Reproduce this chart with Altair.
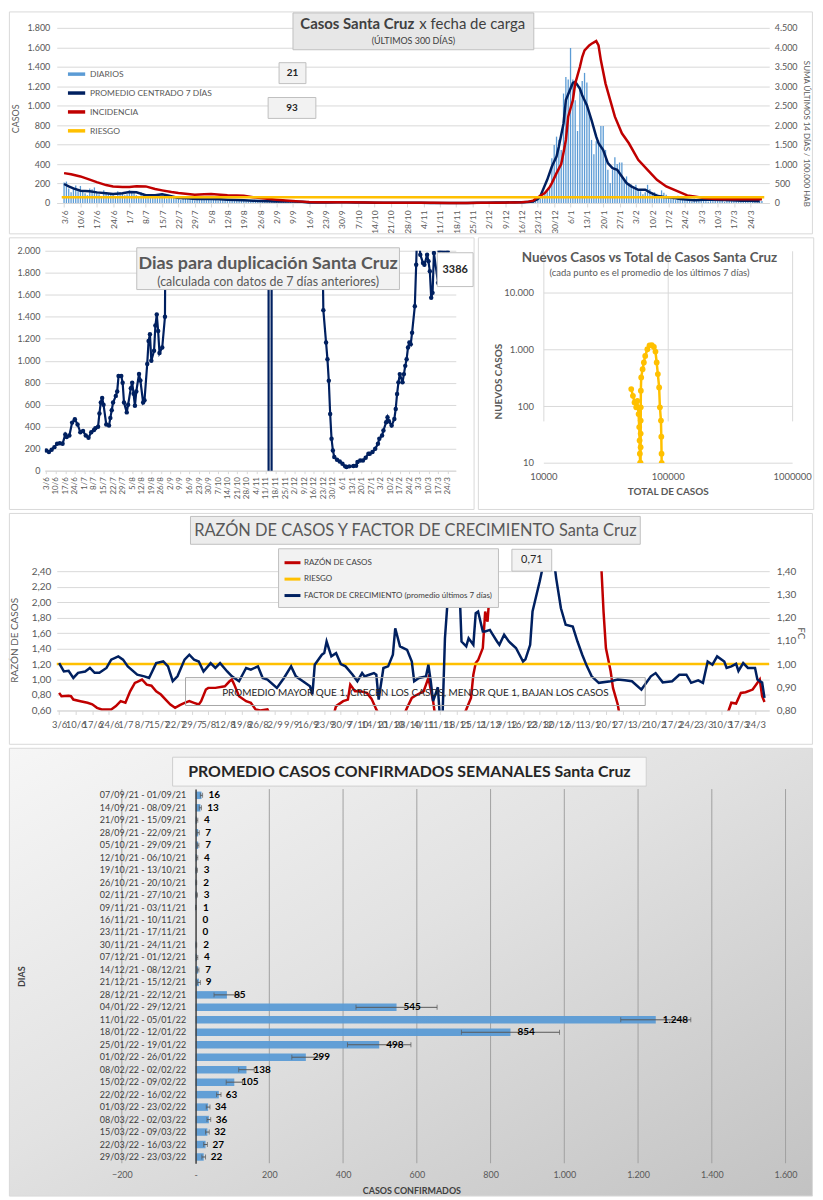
import altair as alt
import pandas as pd

FONT = "Lato"
BASE = pd.Timestamp("2021-06-03")  # day 0 of every "dia" list

# ---------------- Panel 1: Casos Santa Cruz x fecha de carga ----------------
diarios_jun = [210, 220, 150, 110, 160, 180, 120, 175, 130, 100, 80, 150, 140, 160, 120, 90, 70, 130, 110, 100,
               95, 85, 60, 120, 110, 100, 80, 90]
diarios_jul = [130, 120, 100, 80, 60, 110, 100, 90, 85, 70, 50, 80, 90, 85, 80, 60, 45, 70, 60, 55,
               50, 40, 30, 55, 50, 45, 48, 40, 25, 45, 50]
diarios_ago = [40, 35, 30, 45, 40, 50, 30, 25, 40, 38, 35, 30, 25, 20, 35, 30, 28, 25, 22, 18,
               15, 28, 25, 22, 20, 18, 12, 10, 20, 18, 15]
diarios_sep = [20, 18, 15, 12, 10, 22, 15, 14, 16, 12, 10, 8, 18, 13, 5, 4, 3, 6, 2, 4,
               4, 8, 7, 6, 9, 5, 8, 6, 7, 6]
diarios_oct = [8, 5, 9, 7, 7, 5, 4, 3, 6, 2, 4, 4, 3, 4, 2, 3, 3, 4, 2, 3,
               2, 1, 2, 3, 2, 1, 3, 4, 3, 2, 4]
diarios_nov = [3, 2, 1, 1, 2, 1, 0, 1, 1, 0, 0, 0, 1, 0, 0, 0, 0, 1, 0, 0,
               0, 0, 1, 2, 1, 3, 2, 2, 3, 2]
diarios_dic = [3, 4, 5, 3, 4, 5, 4, 6, 7, 8, 6, 7, 8, 7, 9, 8, 10, 9, 8, 10,
               12, 15, 30, 45, 60, 90, 130, 160, 460, 596, 682]
diarios_ene = [651, 545, 1125, 1296, 1268, 1593, 1268, 1057, 740, 1194, 1255, 1337, 1238, 921, 648, 500, 634, 645, 791, 791,
               545, 341, 205, 341, 471, 400, 416, 416, 250, 273, 205]
diarios_feb = [190, 150, 188, 140, 120, 90, 110, 187, 140, 85, 110, 95, 60, 130, 105, 85, 70, 60, 45, 30,
               75, 55, 40, 35, 30, 25, 15, 45]
diarios_mar = [40, 35, 40, 30, 20, 15, 50, 45, 35, 30, 28, 20, 10, 45, 40, 30, 28, 25, 15, 10,
               35, 40, 25, 20, 22, 12, 8, 30, 21]
diarios = (diarios_jun + diarios_jul + diarios_ago + diarios_sep + diarios_oct + diarios_nov
           + diarios_dic + diarios_ene + diarios_feb + diarios_mar)

prom_dia = [0, 2, 4, 7, 11, 14, 18, 21, 25, 28, 31, 35, 39, 42, 45, 49, 53, 56, 60, 63,
            67, 70, 74, 77, 81, 84, 88, 91, 95, 98, 102, 105, 109, 113, 117, 121, 125, 129, 133, 137,
            141, 145, 149, 153, 157, 161, 165, 169, 173, 177, 181, 185, 189, 193, 197, 201, 203, 204, 207, 209,
            211, 212, 214, 215, 217, 218, 219, 221, 222, 224, 226, 228, 229, 231, 233, 235, 237, 239, 241, 243,
            246, 249, 251, 254, 257, 260, 264, 270, 274, 278, 282, 286, 290, 294, 298]
prom_val = [195, 170, 150, 126, 120, 109, 100, 92, 100, 112, 110, 79, 80, 90, 75, 51, 48, 41, 42, 41,
            38, 34, 30, 27, 23, 20, 17, 16, 15, 14, 12, 6, 4, 6, 7, 7, 5, 4, 3, 3,
            2, 2, 3, 2, 1, 0.5, 0.3, 0.3, 0.5, 2, 3, 4, 6, 7, 8, 15, 40, 68, 238, 375,
            477, 580, 818, 1057, 1176, 1234, 1245, 1176, 1108, 1006, 852, 682, 614, 545, 409, 358, 341, 273, 205, 171,
            136, 136, 109, 75, 62, 55, 41, 27, 32, 34, 30, 27, 24, 22, 19]

inc_dia = [0, 3, 7, 11, 14, 18, 21, 25, 28, 31, 35, 39, 42, 46, 49, 53, 56, 60, 63, 67,
           70, 74, 77, 81, 84, 88, 91, 95, 98, 102, 105, 109, 116, 123, 130, 137, 144, 151, 158, 165,
           172, 179, 186, 193, 196, 199, 201, 202, 206, 208, 209, 211, 213, 214, 215, 216, 218, 219, 221, 222,
           223, 225, 226, 228, 229, 230, 232, 234, 236, 239, 242, 246, 250, 254, 258, 263, 267, 270, 274, 279,
           286, 292, 299]
inc_val = [767, 740, 682, 600, 537, 460, 426, 409, 409, 430, 426, 360, 324, 280, 256, 230, 213, 225, 230, 210,
           196, 190, 188, 150, 128, 100, 85, 65, 51, 35, 26, 20, 18, 16, 12, 9, 7, 6, 4, 2,
           2, 4, 8, 14, 20, 35, 60, 110, 256, 400, 511, 767, 1000, 1300, 1619, 2217, 2642, 3068, 3495, 3750,
           3920, 4050, 4091, 4160, 4048, 3665, 3068, 2642, 2217, 1790, 1534, 1108, 852, 596, 426, 298, 196, 170, 128, 102,
           95, 95, 93]
riesgo_inc = 150
series1 = ["DIARIOS", "PROMEDIO CENTRADO 7 DÍAS", "INCIDENCIA", "RIESGO"]
colores1 = ["#5B9BD5", "#002060", "#C00000", "#FFC000"]

# ---------------- Panel 2: Dias para duplicación ----------------
dup_dia = [0, 2, 4, 6, 8, 10, 12, 14, 15, 17, 19, 21, 23, 25, 27, 29, 31, 33, 35, 36,
           38, 39, 40, 41, 42, 44, 46, 47, 48, 49, 51, 52, 53, 55, 56, 57, 59, 60, 62, 63,
           64, 65, 66, 68, 69, 71, 72, 74, 75, 76, 77, 79, 80, 81, 82, 83, 85, 87, 88, 100,
           120, 140, 162, 163, 165, 166, 180, 195, 202, 203, 205, 206, 207, 208, 209, 210, 211, 213, 215, 217,
           219, 220, 222, 225, 227, 228, 230, 232, 234, 236, 237, 239, 241, 243, 244, 246, 247, 249, 250, 251,
           253, 255, 256, 257, 258, 259, 261, 262, 263, 264, 265, 266, 267, 268, 270, 271, 272, 274, 276, 277,
           279, 280, 281, 282, 283, 284, 287, 288, 291, 294, 299]
dup_val = [184, 169, 190, 214, 245, 250, 244, 330, 305, 320, 437, 467, 420, 350, 360, 320, 300, 350, 370, 385,
           400, 520, 620, 660, 600, 420, 410, 480, 550, 620, 680, 720, 860, 860, 800, 620, 530, 600, 750, 800,
           700, 590, 720, 880, 820, 620, 640, 970, 1180, 1240, 1000, 1090, 1320, 1420, 1270, 1070, 1120, 1400, 4000, 8000,
           15000, 30000, 90000, -9000, -9000, 90000, 40000, 9000, 2400, 1460, 1165, 1014, 817, 516, 290, 184, 124, 100, 84, 63,
           39, 33, 39, 42, 45, 78, 93, 93, 118, 154, 154, 169, 199, 244, 290, 320, 365, 440, 486, 450,
           410, 470, 561, 697, 803, 878, 803, 878, 953, 1014, 1120, 1165, 1150, 1255, 1496, 1873, 2300, 1964, 1889, 1873,
           1964, 1904, 1813, 1572, 1617, 1979, 1708, 2000, 1990, 1995, 3386]

# ---------------- Panel 3: Nuevos casos vs total ----------------
tot_casos = [50900, 52500, 54100, 55800, 57000, 58300, 59000, 59400, 59700, 60000,
             60100, 60200, 60300, 60400, 60450, 60500, 60550, 60600, 60650, 60700,
             60800, 61200, 62800, 64300, 65900, 68600, 71400, 74500, 77400, 79700,
             81500, 83300, 85300, 86500, 88200, 88800, 89200, 89400]
nuevos = [201, 153, 117, 96, 125, 73, 43, 25, 14.6, 10,
          6, 3, 1.5, 1, 3, 10, 19, 33, 56, 96,
          188, 323, 451, 591, 772, 1012, 1189, 1200, 1110, 922,
          591, 370, 215, 96, 56, 29, 14.6, 10]

# ---------------- Panel 4: Razón de casos y factor de crecimiento ----------------
razon_dia = [0, 1, 4, 5, 6, 9, 12, 14, 16, 18, 22, 24, 26, 28, 30, 32, 33, 35, 37, 39,
             41, 43, 45, 47, 49, 51, 53, 55, 57, 59, 60, 62, 63, 66, 70, 72, 73, 74, 76, 79,
             81, 83, 85, 88, 90, 100, 110, 116, 117, 120, 122, 123, 125, 127, 130, 132, 134, 136, 141, 145,
             147, 149, 151, 154, 155, 156, 158, 159, 163, 168, 172, 174, 175, 176, 177, 179, 180, 181, 182, 183,
             190, 200, 215, 226, 229, 230, 231, 233, 234, 236, 237, 245, 260, 275, 282, 283, 284, 286, 288, 290,
             293, 296, 297, 298]
razon_val = [0.827, 0.784, 0.79, 0.784, 0.741, 0.72, 0.699, 0.68, 0.634, 0.613, 0.613, 0.656, 0.72, 0.70, 0.848, 0.956, 0.97, 1.0, 0.934, 0.92,
             0.848, 0.806, 0.741, 0.677, 0.634, 0.67, 0.699, 0.72, 0.699, 0.677, 0.72, 0.87, 0.892, 0.892, 0.912, 0.977, 1.0, 0.934, 0.784, 0.72,
             0.7, 0.613, 0.6, 0.613, 0.5, 0.42, 0.45, 0.55, 0.656, 0.72, 0.741, 0.934, 0.848, 0.85, 0.827, 0.75, 0.613, 0.5, 0.4, 0.5,
             0.634, 0.763, 0.8, 0.848, 0.934, 1.02, 0.72, 0.5, 0.3, 0.35, 0.613, 0.763, 1.063, 1.213, 1.25, 1.406, 1.877, 1.748, 2.177, 2.7,
             4.0, 5.0, 5.0, 3.5, 2.5, 1.877, 1.406, 1.106, 0.891, 0.677, 0.5, 0.4, 0.35, 0.45, 0.55, 0.613, 0.7, 0.69, 0.827, 0.835,
             0.87, 1.0, 0.784, 0.71]
fc_dia = [0, 2, 4, 6, 8, 11, 13, 15, 17, 20, 22, 25, 27, 29, 33, 36, 38, 41, 44, 46,
          48, 50, 53, 55, 57, 59, 61, 64, 66, 68, 71, 73, 76, 79, 81, 84, 86, 88, 92, 95,
          98, 100, 103, 106, 107, 108, 111, 112, 113, 115, 117, 119, 121, 124, 126, 128, 129, 131, 133, 134,
          135, 137, 139, 141, 142, 144, 147, 149, 150, 152, 155, 156, 157, 158, 160, 161, 162, 163, 165, 167,
          169, 170, 172, 173, 175, 176, 177, 179, 180, 182, 183, 185, 186, 188, 190, 193, 196, 197, 199, 200,
          201, 203, 205, 207, 209, 210, 212, 214, 217, 219, 221, 223, 225, 228, 233, 236, 239, 242, 246, 250,
          252, 255, 259, 262, 265, 267, 270, 272, 274, 276, 278, 281, 282, 284, 286, 287, 289, 291, 294, 295,
          297, 298]
fc_val = [1.004, 0.968, 0.971, 0.94, 0.962, 0.968, 0.983, 0.962, 0.962, 0.983, 1.019, 1.033, 1.019, 0.99, 0.954, 0.947, 0.94, 1.004, 1.011, 0.99,
          0.926, 0.947, 1.019, 1.04, 1.019, 1.011, 0.968, 1.004, 0.983, 1.004, 0.968, 0.947, 0.926, 0.983, 0.976, 0.99, 0.94, 0.933, 0.897, 0.94,
          0.99, 0.947, 0.926, 0.904, 0.869, 0.997, 1.04, 1.047, 1.097, 1.033, 1.047, 1.0, 0.99, 0.954, 0.926, 0.961, 0.947, 0.954, 0.961, 0.954,
          0.847, 0.983, 0.99, 1.04, 1.154, 1.076, 1.061, 1.011, 0.926, 0.94, 0.947, 0.997, 0.926, 0.84, 0.90, 0.75, 0.78, 1.111, 1.397, 1.6,
          1.369, 1.097, 1.076, 1.111, 1.083, 1.219, 1.226, 1.14, 1.14, 1.147, 1.13, 1.097, 1.083, 1.126, 1.097, 1.069, 1.011, 1.02, 1.083, 1.226,
          1.269, 1.354, 1.45, 1.5, 1.45, 1.369, 1.24, 1.169, 1.161, 1.097, 1.04, 0.99, 0.947, 0.919, 0.926, 0.933, 0.93, 0.926, 0.89, 0.947,
          0.961, 0.921, 0.926, 0.954, 0.954, 0.919, 0.93, 0.919, 1.011, 0.997, 1.033, 1.011, 0.983, 0.99, 1.001, 0.97, 1.004, 0.983, 0.983, 0.933,
          0.92, 0.854]
riesgo_razon = 1.2
series4 = ["RAZÓN DE CASOS", "RIESGO", "FACTOR DE CRECIMIENTO (promedio últimos 7 días)"]
colores4 = ["#C00000", "#FFC000", "#002060"]

# ---------------- Panel 5: Promedio casos confirmados semanales ----------------
semanas = ["07/09/21 - 01/09/21", "14/09/21 - 08/09/21", "21/09/21 - 15/09/21", "28/09/21 - 22/09/21",
           "05/10/21 - 29/09/21", "12/10/21 - 06/10/21", "19/10/21 - 13/10/21", "26/10/21 - 20/10/21",
           "02/11/21 - 27/10/21", "09/11/21 - 03/11/21", "16/11/21 - 10/11/21", "23/11/21 - 17/11/21",
           "30/11/21 - 24/11/21", "07/12/21 - 01/12/21", "14/12/21 - 08/12/21", "21/12/21 - 15/12/21",
           "28/12/21 - 22/12/21", "04/01/22 - 29/12/21", "11/01/22 - 05/01/22", "18/01/22 - 12/01/22",
           "25/01/22 - 19/01/22", "01/02/22 - 26/01/22", "08/02/22 - 02/02/22", "15/02/22 - 09/02/22",
           "22/02/22 - 16/02/22", "01/03/22 - 23/02/22", "08/03/22 - 02/03/22", "15/03/22 - 09/03/22",
           "22/03/22 - 16/03/22", "29/03/22 - 23/03/22"]
promedios = [16, 13, 4, 7, 7, 4, 3, 2, 3, 1, 0, 0, 2, 4, 7, 9, 85, 545, 1248, 854, 498, 299, 138, 105, 63, 34, 36, 32, 27, 22]
errores = [3, 3, 2, 3, 2, 2, 2, 1, 2, 1, 0, 0, 1, 2, 2, 4, 35, 110, 95, 133, 86, 38, 21, 22, 6, 5, 5, 5, 5, 5]
ticks5 = [-200, 200, 400, 600, 800, 1000, 1200, 1400, 1600]

# ============================================================================
THOUS = "replace(format(datum.value, ','), ',', '.')"
DEC2 = "replace(format(datum.value, '.2f'), '.', ',')"
GRID = "#d9d9d9"
LAB = "#595959"
X0 = 43.6  # common left origin (page x) of every panel in the column


def fechas(dias):
    return [BASE + pd.Timedelta(days=int(d)) for d in dias]


def one():
    return pd.DataFrame({"k": [0]})


def caja(x0, y0, x1, y1, o, fill="#f2f2f2", stroke="#bfbfbf", fo=1.0):
    ox, oy = o
    return alt.Chart(one()).mark_rect(fill=fill, fillOpacity=fo, stroke=stroke, strokeWidth=1).encode(
        x=alt.value(x0 - ox), x2=alt.value(x1 - ox), y=alt.value(y0 - oy), y2=alt.value(y1 - oy))


def rotulo(t, x, y, o, size, weight="normal", color=LAB, align="center"):
    ox, oy = o
    return alt.Chart(one()).mark_text(text=t, font=FONT, fontSize=size, fontWeight=weight, color=color,
                                      align=align, baseline="middle").encode(
        x=alt.value(x - ox), y=alt.value(y - oy))


dom_t = [alt.DateTime(year=2021, month=6, date=2), alt.DateTime(year=2022, month=3, date=30)]
ticks_t = [alt.DateTime(year=t.year, month=t.month, date=t.day)
           for t in pd.date_range("2021-06-03", "2022-03-24", freq="7D")]

# ---------------- Panel 1 ----------------
O1 = (X0, 24)
PL1, PR1 = 55.6 - X0, 771.6 - X0
xs1 = alt.Scale(domain=dom_t, range=[PL1, PR1])
ax_x1 = alt.Axis(values=ticks_t, format="%-d/%-m", labelAngle=270, labelFontSize=8.5, labelColor=LAB,
                 labelPadding=3, labelFlush=False, labelOverlap=False, grid=False, domainColor=GRID,
                 tickColor=GRID, tickSize=4, title=None)
ax_y1L = alt.Axis(orient="left", offset=-PL1, values=list(range(0, 1801, 200)), labelExpr=THOUS, labelFontSize=9,
                  labelColor=LAB, labelPadding=7, grid=True, gridColor=GRID, domain=False, ticks=False,
                  title="CASOS", titleFontSize=9, titleFontWeight="normal", titleColor=LAB,
                  titleX=-41.6, titleY=91, titleBaseline="middle")
ax_y1R = alt.Axis(orient="right", values=list(range(0, 4501, 500)), labelExpr=THOUS, labelFontSize=9,
                  labelColor=LAB, labelPadding=5, grid=False, domain=False, ticks=False,
                  title="SUMA  ÚLTIMOS 14 DÍAS / 100.000 HAB", titleFontSize=8, titleFontWeight="normal",
                  titleColor=LAB, titleX=36.4, titleY=106, titleBaseline="middle")
ysL1 = alt.Scale(domain=[0, 1800], nice=False)
ysR1 = alt.Scale(domain=[0, 4500], nice=False)
c1 = alt.Scale(domain=series1, range=colores1)
leg1 = alt.Legend(orient="none", legendX=65 - X0, legendY=36, title=None, symbolType="stroke", symbolSize=300,
                  symbolStrokeWidth=3.5, labelFontSize=8.5, labelColor=LAB, rowPadding=1, labelLimit=300,
                  padding=0, labelOffset=3)

df_diarios = pd.DataFrame({"fecha": fechas(range(len(diarios))), "casos": diarios})
df_prom = pd.DataFrame({"fecha": fechas(prom_dia), "valor": prom_val, "serie1": series1[1]})
df_inc = pd.DataFrame({"fecha": fechas(inc_dia), "valor": inc_val, "serie1": series1[2]})
df_r1 = pd.DataFrame({"fecha": fechas([-1, 300]), "valor": [riesgo_inc] * 2, "serie1": series1[3]})

bars1 = alt.Chart(df_diarios).mark_bar(color=colores1[0], size=1.3).encode(
    x=alt.X("fecha:T", scale=xs1, axis=ax_x1), y=alt.Y("casos:Q", scale=ysL1, axis=ax_y1L))
prom1 = alt.Chart(df_prom).mark_line(strokeWidth=2.5).encode(
    x=alt.X("fecha:T", scale=xs1, axis=ax_x1), y=alt.Y("valor:Q", scale=ysL1, axis=ax_y1L),
    color=alt.Color("serie1:N", scale=c1, legend=leg1))
inc1 = alt.Chart(df_inc).mark_line(strokeWidth=2.5).encode(
    x=alt.X("fecha:T", scale=xs1, axis=ax_x1), y=alt.Y("valor:Q", scale=ysR1, axis=ax_y1R),
    color=alt.Color("serie1:N", scale=c1, legend=leg1))
r1 = alt.Chart(df_r1).mark_line(strokeWidth=2.5).encode(
    x=alt.X("fecha:T", scale=xs1, axis=ax_x1), y=alt.Y("valor:Q", scale=ysR1, axis=ax_y1R),
    color=alt.Color("serie1:N", scale=c1, legend=leg1))

p1 = alt.layer(
    caja(8, 8, 815, 231, O1, fill="white", stroke="#d9d9d9", fo=0),
    alt.layer(bars1, prom1),
    alt.layer(inc1, r1),
    caja(293, 9, 535, 46, O1, fill="#e7e7e7"),
    rotulo("Casos Santa Cruz", 415, 20, O1, 15, "bold", "#404040", "right"),
    rotulo("x fecha de carga", 420, 20, O1, 15, "normal", "#404040", "left"),
    rotulo("(ÚLTIMOS 300 DÍAS)", 414, 37, O1, 9, "normal", "#404040"),
    caja(279, 59, 306, 80, O1),
    rotulo(str(diarios[-1]), 292.5, 69.5, O1, 10, "bold", "#262626"),
    caja(268, 94, 316, 115, O1),
    rotulo(str(inc_val[-1]), 292, 104.5, O1, 10, "bold", "#262626"),
).resolve_scale(y="independent").properties(width=PR1, height=176)

# ---------------- Panel 2 ----------------
O2 = (X0, 246)
ax_x2 = alt.Axis(values=ticks_t, format="%-d/%-m", labelAngle=270, labelFontSize=8, labelColor=LAB,
                 labelPadding=3, labelFlush=False, labelOverlap=False, grid=False, domainColor=GRID,
                 tickColor=GRID, tickSize=3, title=None)
ax_y2 = alt.Axis(values=list(range(0, 2001, 200)), labelExpr=THOUS, labelFontSize=9, labelColor=LAB,
                 labelPadding=5, grid=True, gridColor=GRID, domain=False, ticks=False, title=None)
xs2 = alt.Scale(domain=dom_t)
ys2 = alt.Scale(domain=[0, 2000], nice=False)
df_dup = pd.DataFrame({"fecha": fechas(dup_dia), "dias": dup_val})
line2 = alt.Chart(df_dup).mark_line(color="#002060", strokeWidth=2.2, clip=True).encode(
    x=alt.X("fecha:T", scale=xs2, axis=ax_x2), y=alt.Y("dias:Q", scale=ys2, axis=ax_y2))
pts2 = alt.Chart(df_dup).mark_circle(color="#002060", size=20, opacity=1, clip=True).encode(
    x=alt.X("fecha:T", scale=xs2, axis=ax_x2), y=alt.Y("dias:Q", scale=ys2, axis=ax_y2))
p2 = alt.layer(
    caja(8, 233, 475, 506, O2, fill="white", stroke="#d9d9d9", fo=0),
    line2, pts2,
    caja(136, 243, 400, 285, O2, fill="#f2f2f2"),
    rotulo("Dias para duplicación Santa Cruz", 268, 259, O2, 18, "bold"),
    rotulo("(calculada con datos de 7 días anteriores)", 268, 277, O2, 12.5),
    caja(438, 248, 474, 282, O2, fill="white"),
    rotulo(str(dup_val[-1]), 456, 265, O2, 11, "bold", "#262626"),
).properties(width=413, height=221)

# ---------------- Panel 3 ----------------
O3 = (543.3, 246)
PT3, PB3 = 288.3 - 246, 459.3 - 246
ax_x3 = alt.Axis(values=[10000, 100000, 1000000], format="d", labelFontSize=9.5, labelColor=LAB,
                 labelPadding=9, labelFlush=False, grid=True, gridColor=GRID, domain=False, ticks=False,
                 title="TOTAL DE CASOS", titleFontSize=10, titleFontWeight="bold", titleColor=LAB,
                 titleY=28.7, titleBaseline="middle")
ax_y3 = alt.Axis(values=[10, 100, 1000, 10000], labelExpr=THOUS, labelFontSize=9.5, labelColor=LAB,
                 labelPadding=10, grid=True, gridColor=GRID, domain=False, ticks=False,
                 title="NUEVOS CASOS", titleFontSize=10, titleFontWeight="bold", titleColor=LAB,
                 titleX=-45.3, titleY=377 - 246, titleBaseline="middle")
xs3 = alt.Scale(type="log", domain=[10000, 1000000], nice=False)
ys3 = alt.Scale(type="log", domain=[10, 10000], nice=False, range=[PB3, PT3])
df3 = pd.DataFrame({"total": tot_casos, "nuevos": nuevos, "orden": list(range(len(tot_casos)))})
line3 = alt.Chart(df3).mark_line(color="#FFC000", strokeWidth=2.5, clip=True).encode(
    x=alt.X("total:Q", scale=xs3, axis=ax_x3), y=alt.Y("nuevos:Q", scale=ys3, axis=ax_y3), order="orden:Q")
pts3 = alt.Chart(df3).mark_circle(color="#FFC000", size=34, opacity=1, clip=True).encode(
    x=alt.X("total:Q", scale=xs3, axis=ax_x3), y=alt.Y("nuevos:Q", scale=ys3, axis=ax_y3))
p3 = alt.layer(
    caja(478, 233, 815, 506, O3, fill="white", stroke="#d9d9d9", fo=0),
    line3, pts3,
    rotulo("Nuevos Casos vs Total de Casos Santa Cruz", 650, 253, O3, 13.5, "bold"),
    rotulo("(cada punto es el promedio de los últimos 7 días)", 650, 268, O3, 9.5),
).properties(width=250, height=PB3)

row23 = alt.concat(p2, p3, columns=2, spacing=3, align="none").resolve_scale(color="independent")

# ---------------- Panel 4 ----------------
O4 = (X0, 566)
xs4 = alt.Scale(domain=dom_t, range=[PL1, PR1])
ax_x4 = alt.Axis(values=ticks_t, format="%-d/%-m", labelAngle=0, labelFontSize=9.5, labelColor=LAB,
                 labelPadding=5, labelFlush=False, labelOverlap=False, grid=False, domainColor=GRID,
                 tickColor=GRID, tickSize=4, title=None)
ax_y4L = alt.Axis(orient="left", offset=-PL1, values=[0.6, 0.8, 1.0, 1.2, 1.4, 1.6, 1.8, 2.0, 2.2, 2.4],
                  labelExpr=DEC2, labelFontSize=10, labelColor=LAB, labelPadding=6, grid=True, gridColor=GRID,
                  domain=False, ticks=False, title="RAZÓN DE CASOS", titleFontSize=10, titleFontWeight="normal",
                  titleColor=LAB, titleX=-42.6, titleY=69, titleBaseline="middle")
ax_y4R = alt.Axis(orient="right", values=[0.8, 0.9, 1.0, 1.1, 1.2, 1.3, 1.4], labelExpr=DEC2,
                  labelFontSize=10, labelColor=LAB, labelPadding=7, grid=False, domain=False, ticks=False,
                  title="FC", titleFontSize=10, titleFontWeight="normal", titleColor=LAB,
                  titleX=31.4, titleY=62, titleBaseline="middle")
ysL4 = alt.Scale(domain=[0.6, 2.4], nice=False, zero=False)
ysR4 = alt.Scale(domain=[0.8, 1.4], nice=False, zero=False)
c4 = alt.Scale(domain=series4, range=colores4)
leg4 = alt.Legend(orient="none", legendX=278 - X0, legendY=-23, title=None, symbolType="stroke", symbolSize=256,
                  symbolStrokeWidth=3, labelFontSize=8, labelColor="#404040", rowPadding=0.5, labelLimit=300,
                  padding=5, fillColor="#f2f2f2", strokeColor="#bfbfbf", labelOffset=2)
df_raz = pd.DataFrame({"fecha": fechas(razon_dia), "valor": razon_val, "serie4": series4[0]})
df_r4 = pd.DataFrame({"fecha": fechas([-1, 300]), "valor": [riesgo_razon] * 2, "serie4": series4[1]})
df_fc = pd.DataFrame({"fecha": fechas(fc_dia), "valor": fc_val, "serie4": series4[2]})
raz4 = alt.Chart(df_raz).mark_line(strokeWidth=2.5, clip=True).encode(
    x=alt.X("fecha:T", scale=xs4, axis=ax_x4), y=alt.Y("valor:Q", scale=ysL4, axis=ax_y4L),
    color=alt.Color("serie4:N", scale=c4, legend=leg4))
r4 = alt.Chart(df_r4).mark_line(strokeWidth=2.5, clip=True).encode(
    x=alt.X("fecha:T", scale=xs4, axis=ax_x4), y=alt.Y("valor:Q", scale=ysL4, axis=ax_y4L),
    color=alt.Color("serie4:N", scale=c4, legend=leg4))
fc4 = alt.Chart(df_fc).mark_line(strokeWidth=2.5, clip=True).encode(
    x=alt.X("fecha:T", scale=xs4, axis=ax_x4), y=alt.Y("valor:Q", scale=ysR4, axis=ax_y4R),
    color=alt.Color("serie4:N", scale=c4, legend=leg4))
p4 = alt.layer(
    caja(8, 508, 815, 740, O4, fill="white", stroke="#d9d9d9", fo=0),
    alt.layer(raz4, r4),
    fc4,
    caja(190, 511, 642, 539, O4, fill="#ececec"),
    rotulo("RAZÓN DE CASOS Y FACTOR DE CRECIMIENTO Santa Cruz", 416, 525.5, O4, 16.5, "normal", "#595959"),
    caja(513, 544, 553, 566, O4, fill="#f2f2f2"),
    rotulo(f"{razon_val[-1]:.2f}".replace(".", ","), 533, 555, O4, 11, "normal", "#262626"),
    caja(185, 673, 647, 701, O4, fill="white", stroke="#a6a6a6", fo=0),
    rotulo("PROMEDIO MAYOR QUE 1, CRECEN LOS CASOS, MENOR QUE 1, BAJAN LOS CASOS", 416, 688, O4, 10,
           "normal", "#262626"),
).resolve_scale(y="independent").properties(width=PR1, height=140)

# ---------------- Panel 5 ----------------
O5 = (X0, 783)
PL5, PR5 = 121 - X0, 788 - X0
H5 = 376
ZERO5 = 195.1  # page x of the category axis line
xs5 = alt.Scale(domain=[-200, 1600], nice=False, range=[PL5, PR5])
ys5 = alt.Scale(domain=semanas, paddingInner=0, paddingOuter=0)
ax_x5 = alt.Axis(values=list(range(-200, 1601, 200)),
                 labelExpr="datum.value == 0 ? '-' : " + THOUS, labelFontSize=9, labelColor=LAB,
                 labelPadding=7, labelFlush=False, domain=False, ticks=False, grid=False,
                 title="CASOS CONFIRMADOS", titleFontSize=9, titleFontWeight="bold", titleColor="#404040",
                 titleX=412 - X0, titleY=27, titleBaseline="middle", zindex=1)
ax_y5 = alt.Axis(offset=-(ZERO5 - X0), labelFontSize=9, labelColor="#404040", labelPadding=10, labelLimit=200,
                 domain=True, domainColor="#404040", domainWidth=1.5, ticks=False, grid=False,
                 title="DIAS", titleFontSize=9, titleFontWeight="bold", titleColor="#404040",
                 titleX=20 - ZERO5, titleY=188, titleBaseline="middle", zindex=1)
df5 = pd.DataFrame({"semana": semanas, "promedio": promedios, "err": errores})
df5["lo"] = df5["promedio"] - df5["err"]
df5["hi"] = df5["promedio"] + df5["err"]
df5["etiqueta"] = [f"{v:,}".replace(",", ".") for v in promedios]
df_grid5 = pd.DataFrame({"v": ticks5})
Y5 = alt.Y("semana:N", scale=ys5, sort=semanas, axis=ax_y5)

grad5 = alt.Gradient(gradient="linear", x1=0, y1=0, x2=1, y2=1,
                     stops=[alt.GradientStop(color="#f6f6f6", offset=0),
                            alt.GradientStop(color="#e2e2e2", offset=0.45),
                            alt.GradientStop(color="#c2c2c2", offset=1)])
grid5 = alt.Chart(df_grid5).mark_rule(color="#a0a0a0", strokeWidth=1).encode(
    x=alt.X("v:Q", scale=xs5, axis=ax_x5), y=alt.value(0), y2=alt.value(H5))
bars5 = alt.Chart(df5).mark_bar(color="#5B9BD5", size=7.5, opacity=0.95).encode(
    x=alt.X("promedio:Q", scale=xs5, axis=ax_x5), y=Y5)
err5 = alt.Chart(df5).transform_filter("datum.err > 0").mark_rule(color="#595959", strokeWidth=1).encode(
    x=alt.X("lo:Q", scale=xs5, axis=ax_x5), x2="hi:Q", y=Y5)
caplo5 = alt.Chart(df5).transform_filter("datum.err > 0").mark_tick(color="#595959", thickness=1, size=5).encode(
    x=alt.X("lo:Q", scale=xs5, axis=ax_x5), y=Y5)
caphi5 = alt.Chart(df5).transform_filter("datum.err > 0").mark_tick(color="#595959", thickness=1, size=5).encode(
    x=alt.X("hi:Q", scale=xs5, axis=ax_x5), y=Y5)
txt5 = alt.Chart(df5).mark_text(align="left", dx=7, baseline="middle", font=FONT, fontSize=10,
                                fontWeight="bold", color="#000000").encode(
    x=alt.X("promedio:Q", scale=xs5, axis=ax_x5), y=Y5, text="etiqueta:N")
p5 = alt.layer(
    caja(8, 742, 815, 1192, O5, fill=grad5, stroke="#d9d9d9"),
    grid5, bars5, err5, caplo5, caphi5, txt5,
    caja(172, 751, 648, 780, O5, fill="#f7f7f7", stroke="#d0d0d0"),
    rotulo("PROMEDIO CASOS CONFIRMADOS SEMANALES Santa Cruz", 410, 766, O5, 16, "bold", "#262626"),
).properties(width=PR5, height=H5)

chart = alt.concat(p1, row23, p4, p5, columns=1, spacing=2, align="none").resolve_scale(
    color="independent"
).properties(padding=0).configure(font=FONT, background="white").configure_view(stroke=None)

chart.save("out.html", embed_options={"renderer": "svg", "actions": False})
